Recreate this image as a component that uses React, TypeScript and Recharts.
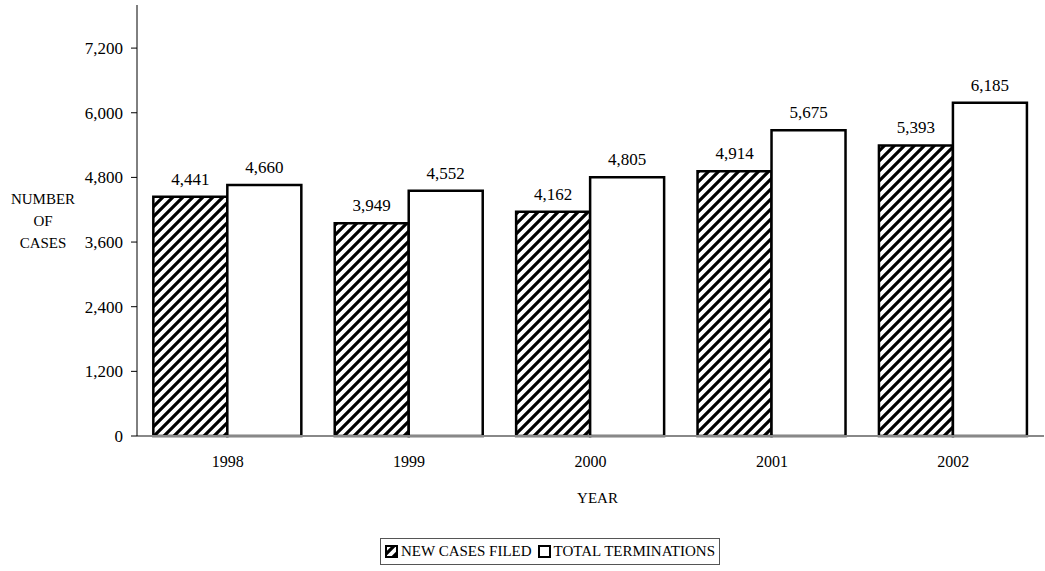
import { BarChart, Bar, XAxis, YAxis, Legend, LabelList } from 'recharts';

const years = ['1998', '1999', '2000', '2001', '2002'];
const newCasesFiled = [4441, 3949, 4162, 4914, 5393];
const totalTerminations = [4660, 4552, 4805, 5675, 6185];
const yTicks = [0, 1200, 2400, 3600, 4800, 6000, 7200];

const data = years.map((year, i) => ({
  year,
  filed: newCasesFiled[i],
  terminations: totalTerminations[i],
}));

// Times-like face
const FONT = "'Times New Roman', 'Liberation Serif', Tinos, 'Noto Serif', 'DejaVu Serif', serif";

const fmt = (v: number) => v.toLocaleString('en-US');

function YLabel() {
  return (
    <text x={43} textAnchor="middle" fontFamily={FONT} fontSize={15} fill="#000">
      <tspan x={43} y={204}>NUMBER</tspan>
      <tspan x={43} y={226}>OF</tspan>
      <tspan x={43} y={248}>CASES</tspan>
    </text>
  );
}

function LegendBox() {
  return (
    <div
      style={{
        border: '1px solid #555',
        display: 'flex',
        alignItems: 'center',
        padding: '4px 4px',
        fontFamily: FONT,
        fontSize: 15,
        color: '#000',
        whiteSpace: 'nowrap',
        background: '#fff',
      }}
    >
      <svg width={13} height={13} style={{ marginRight: 3 }}>
        <rect x={1} y={1} width={11} height={11} fill="url(#hatch)" stroke="#000" strokeWidth={2} />
      </svg>
      <span style={{ marginRight: 6 }}>NEW CASES FILED</span>
      <svg width={13} height={13} style={{ marginRight: 3 }}>
        <rect x={1} y={1} width={11} height={11} fill="#fff" stroke="#000" strokeWidth={2} />
      </svg>
      <span>TOTAL TERMINATIONS</span>
    </div>
  );
}

export default function App() {
  return (
    <div style={{ position: 'absolute', left: 0, top: 0, width: 1045, height: 571, background: '#fff', fontFamily: FONT }}>
      <BarChart
        width={1045}
        height={571}
        data={data}
        margin={{ top: 5, right: 1, left: 0, bottom: 65 }}
        barCategoryGap="9%"
        barGap={0}
      >
        <defs>
          <pattern id="hatch" patternUnits="userSpaceOnUse" width={10} height={10}>
            <rect width={10} height={10} fill="#fff" />
            <path d="M-2.5,2.5 l5,-5 M0,10 l10,-10 M7.5,12.5 l5,-5" stroke="#000" strokeWidth={3.2} />
          </pattern>
        </defs>
        <XAxis
          dataKey="year"
          height={70}
          axisLine={{ stroke: '#888', strokeWidth: 2 }}
          tickLine={false}
          tickSize={0}
          tickMargin={20}
          tick={{ fill: '#000', fontSize: 16, fontFamily: FONT }}
          label={{ value: 'YEAR', position: 'insideBottom', offset: 3, dx: 7, fill: '#000', fontSize: 15, fontFamily: FONT }}
        />
        <YAxis
          width={137}
          domain={[0, 8000]}
          ticks={yTicks}
          interval={0}
          tickFormatter={fmt}
          axisLine={{ stroke: '#000' }}
          tickLine={{ stroke: '#000' }}
          tickSize={6}
          tickMargin={8}
          tick={{ fill: '#000', fontSize: 17, fontFamily: FONT }}
          label={<YLabel />}
        />
        <Legend
          layout="horizontal"
          verticalAlign="middle"
          align="center"
          content={<LegendBox />}
          wrapperStyle={{ position: 'absolute', left: 380, top: 538, width: 'auto' }}
        />
        <Bar dataKey="filed" fill="url(#hatch)" stroke="#000" strokeWidth={2.5} isAnimationActive={false}>
          <LabelList dataKey="filed" position="top" offset={12} formatter={fmt} fill="#000" fontSize={17} fontFamily={FONT} />
        </Bar>
        <Bar dataKey="terminations" fill="#fff" stroke="#000" strokeWidth={2.5} isAnimationActive={false}>
          <LabelList dataKey="terminations" position="top" offset={12} formatter={fmt} fill="#000" fontSize={17} fontFamily={FONT} />
        </Bar>
      </BarChart>
    </div>
  );
}
